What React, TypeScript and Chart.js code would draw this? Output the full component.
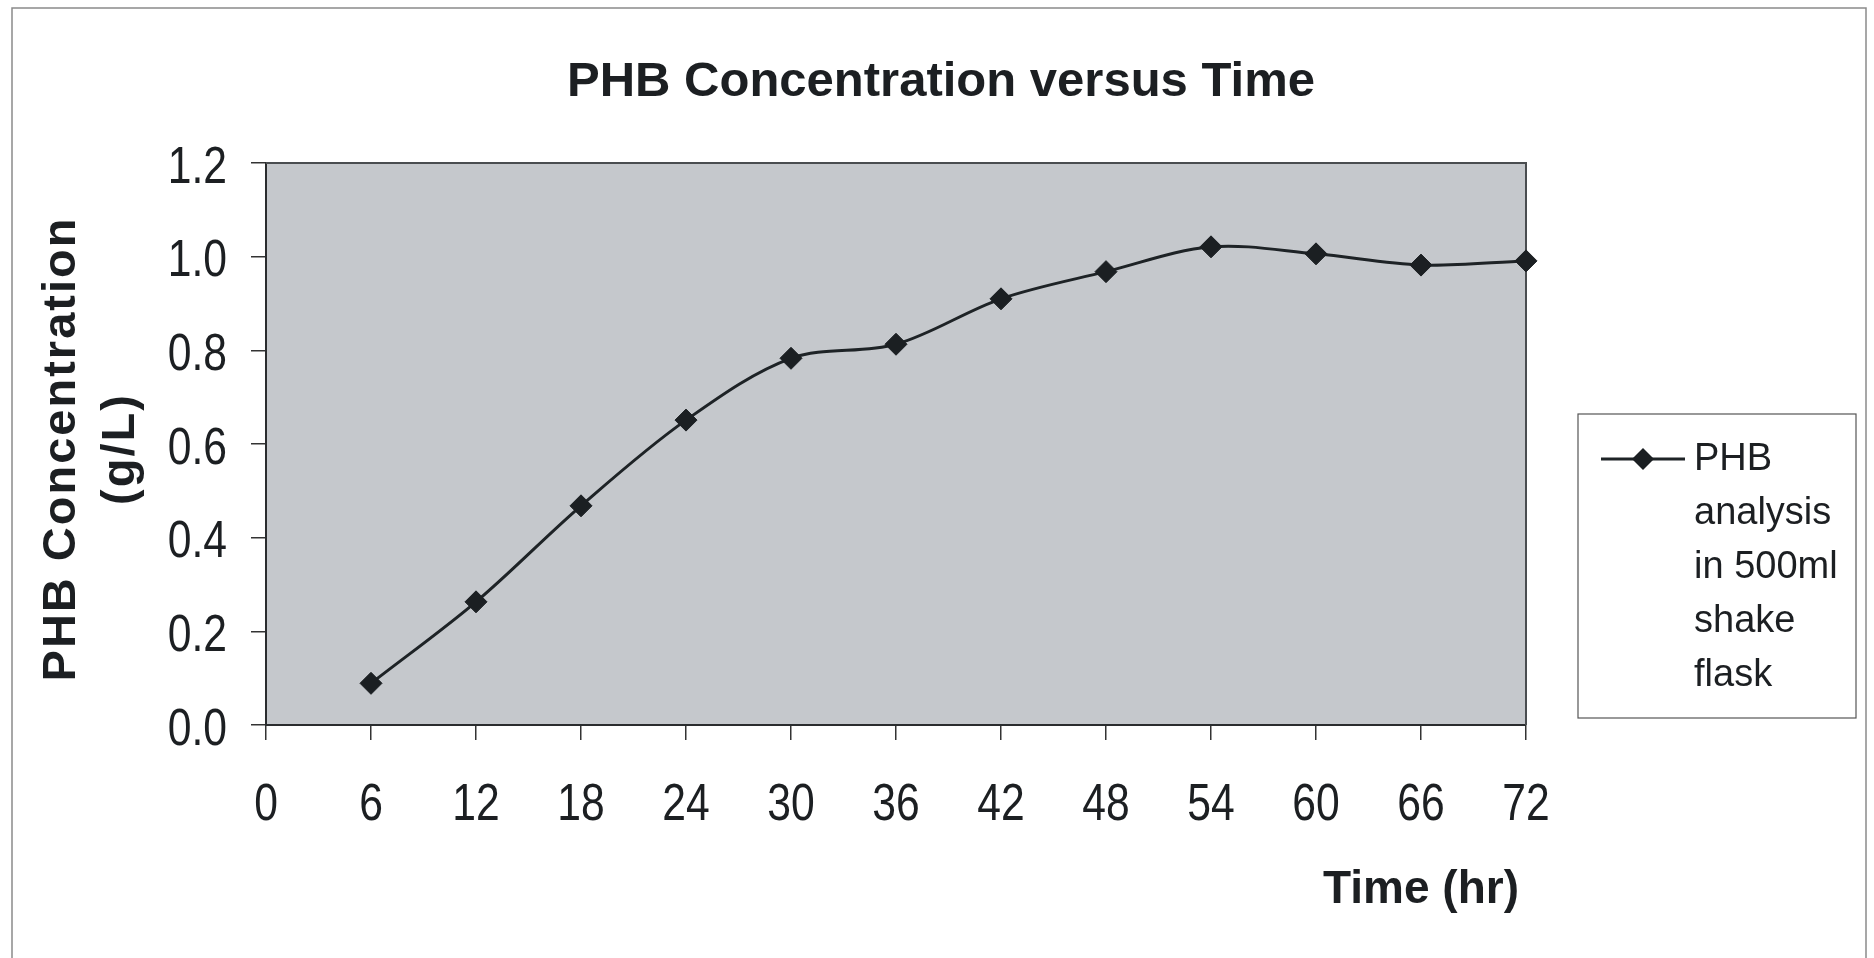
import React, { useEffect, useRef } from "react";
import { Chart, registerables } from "chart.js";

Chart.register(...registerables);

// ---- data ----
const timeHours = [6, 12, 18, 24, 30, 36, 42, 48, 54, 60, 66, 72];
const phbConcentration = [0.089, 0.263, 0.468, 0.651, 0.783, 0.813, 0.91, 0.968, 1.021, 1.006, 0.982, 0.991];
const xAxisRange = [0, 72];
const xAxisStep = 6;
const yAxisRange = [0, 1.2];
const yAxisStep = 0.2;
const chartTitle = "PHB Concentration versus Time";
const yTitleLines = ["PHB Concentration", "(g/L)"];
const xTitle = "Time (hr)";
const legendLines = ["PHB", "analysis", "in 500ml", "shake", "flask"];

const SANS = "'Liberation Sans', Arial, sans-serif";
const INK = "#1c1f22";
const TICK_FONT = `52px ${SANS}`;
const TICK_SQUEEZE = 0.82;

const decorPlugin = {
  id: "decor",
  beforeDraw(chart: any) {
    const { ctx, chartArea: a } = chart;
    ctx.save();
    ctx.fillStyle = "#c5c8cc";
    ctx.fillRect(a.left, a.top, a.right - a.left, a.bottom - a.top);
    ctx.restore();
  },
  beforeDatasetsDraw(chart: any) {
    const { ctx, chartArea: a } = chart;
    ctx.save();
    ctx.strokeStyle = "#4a4d50";
    ctx.lineWidth = 2;
    ctx.beginPath();
    ctx.moveTo(a.left, a.top);
    ctx.lineTo(a.right, a.top);
    ctx.lineTo(a.right, a.bottom);
    ctx.stroke();
    ctx.restore();
  },
  afterDraw(chart: any) {
    const { ctx, chartArea: a } = chart;
    ctx.save();
    // outer chart frame
    ctx.strokeStyle = "#8a8a8a";
    ctx.lineWidth = 1.5;
    ctx.beginPath();
    ctx.moveTo(12, 958);
    ctx.lineTo(12, 8);
    ctx.lineTo(1866, 8);
    ctx.lineTo(1866, 958);
    ctx.stroke();

    // tick labels (condensed, from the library's own scales)
    ctx.fillStyle = INK;
    ctx.font = TICK_FONT;
    ctx.textBaseline = "alphabetic";
    const xs = chart.scales.x;
    xs.ticks.forEach((t: any) => {
      const px = xs.getPixelForValue(t.value);
      ctx.save();
      ctx.translate(px, 820);
      ctx.scale(TICK_SQUEEZE, 1);
      ctx.textAlign = "center";
      ctx.fillText(String(t.label), 0, 0);
      ctx.restore();
    });
    const ys = chart.scales.y;
    ys.ticks.forEach((t: any) => {
      const py = ys.getPixelForValue(t.value);
      ctx.save();
      ctx.translate(227, py + 19.5);
      ctx.scale(TICK_SQUEEZE, 1);
      ctx.textAlign = "right";
      ctx.fillText(String(t.label), 0, 0);
      ctx.restore();
    });

    // title
    ctx.font = `bold 49px ${SANS}`;
    ctx.textAlign = "center";
    ctx.fillText(chartTitle, 941, 96);

    // x-axis title
    ctx.font = `bold 46px ${SANS}`;
    ctx.textAlign = "right";
    ctx.fillText(xTitle, 1519, 903);

    // y-axis title
    ctx.save();
    const cy = (a.top + a.bottom) / 2 + 5;
    ctx.translate(0, cy);
    ctx.rotate(-Math.PI / 2);
    ctx.font = `bold 47px ${SANS}`;
    (ctx as any).letterSpacing = "2px";
    ctx.textAlign = "center";
    ctx.textBaseline = "middle";
    ctx.fillText(yTitleLines[0], 0, 62);
    ctx.fillText(yTitleLines[1], 0, 121);
    ctx.restore();

    // legend
    const ds = chart.data.datasets[0];
    ctx.strokeStyle = "#555";
    ctx.lineWidth = 1.2;
    ctx.strokeRect(1578, 414, 278, 304);
    ctx.strokeStyle = ds.borderColor;
    ctx.lineWidth = ds.borderWidth;
    ctx.beginPath();
    ctx.moveTo(1601, 459);
    ctx.lineTo(1685, 459);
    ctx.stroke();
    ctx.fillStyle = ds.pointBackgroundColor;
    ctx.beginPath();
    const r = ds.pointRadius;
    ctx.moveTo(1643 - r, 459);
    ctx.lineTo(1643, 459 - r);
    ctx.lineTo(1643 + r, 459);
    ctx.lineTo(1643, 459 + r);
    ctx.closePath();
    ctx.fill();
    ctx.fillStyle = INK;
    ctx.font = `38px ${SANS}`;
    ctx.textAlign = "left";
    ctx.textBaseline = "alphabetic";
    legendLines.forEach((line, i) => ctx.fillText(line, 1694, 470 + i * 54));
    ctx.restore();
  },
};

export default function App() {
  const ref = useRef<HTMLCanvasElement>(null);
  useEffect(() => {
    if (!ref.current) return;
    const chart = new Chart(ref.current, {
      type: "line",
      data: {
        datasets: [
          {
            label: legendLines.join(" "),
            data: timeHours.map((t, i) => ({ x: t, y: phbConcentration[i] })),
            borderColor: "#1e2326",
            borderWidth: 3,
            pointStyle: "rectRot",
            pointRadius: 11,
            pointBackgroundColor: "#1b1f22",
            pointBorderColor: "#1b1f22",
            pointBorderWidth: 1,
            tension: 0.33,
            clip: false,
          } as any,
        ],
      },
      options: {
        animation: false,
        responsive: false,
        events: [],
        layout: { padding: { left: 0, right: 348, top: 163, bottom: 0 } },
        plugins: { legend: { display: false }, title: { display: false }, tooltip: { enabled: false } },
        scales: {
          x: {
            type: "linear",
            min: xAxisRange[0],
            max: xAxisRange[1],
            ticks: { display: false, stepSize: xAxisStep, autoSkip: false, maxRotation: 0 },
            grid: { display: true, drawOnChartArea: false, drawTicks: true, tickLength: 15, color: "#333", lineWidth: 1.5 },
            border: { display: true, color: "#2a2c2e", width: 2 },
            afterFit: (s: any) => {
              s.height = 233;
            },
          },
          y: {
            type: "linear",
            min: yAxisRange[0],
            max: yAxisRange[1],
            ticks: {
              display: false,
              stepSize: yAxisStep,
              callback: (v: any) => Number(v).toFixed(1),
            },
            grid: { display: true, drawOnChartArea: false, drawTicks: true, tickLength: 15, color: "#333", lineWidth: 1.5 },
            border: { display: true, color: "#2a2c2e", width: 2 },
            afterFit: (s: any) => {
              s.width = 266;
            },
          },
        },
      },
      plugins: [decorPlugin],
    });
    return () => chart.destroy();
  }, []);
  return (
    <div style={{ position: "fixed", left: 0, top: 0, width: 1874, height: 958, background: "#fff" }}>
      <canvas ref={ref} width={1874} height={958} style={{ width: 1874, height: 958 }} />
    </div>
  );
}
